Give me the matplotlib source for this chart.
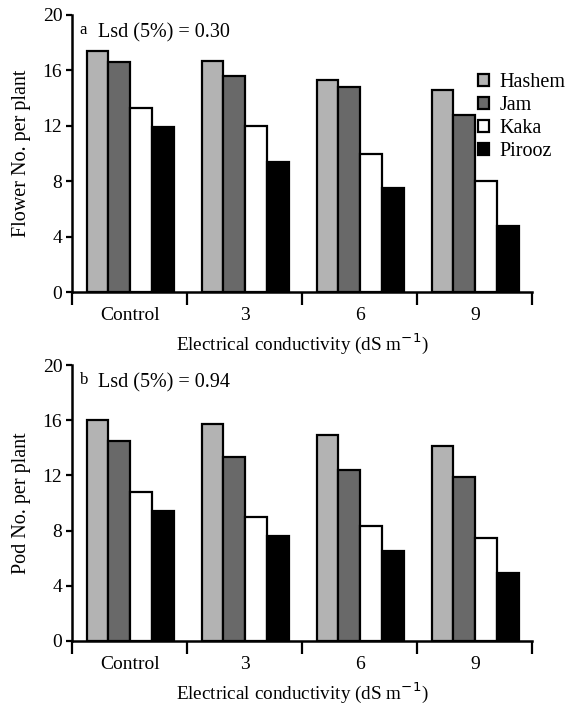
import numpy as np
import matplotlib.pyplot as plt
from matplotlib.ticker import FixedLocator

plt.rcParams['font.family'] = ['Liberation Serif', 'DejaVu Serif']

# data
groups = ['Control', '3', '6', '9']
cultivars = ['Hashem', 'Jam', 'Kaka', 'Pirooz']
colors = ['#b3b3b3', '#696969', '#ffffff', '#000000']

flower = {
    'Hashem': [17.4, 16.7, 15.3, 14.6],
    'Jam':    [16.6, 15.6, 14.8, 12.8],
    'Kaka':   [13.3, 12.0, 10.0, 8.0],
    'Pirooz': [11.9, 9.4, 7.5, 4.8],
}
pod = {
    'Hashem': [16.0, 15.7, 14.9, 14.1],
    'Jam':    [14.5, 13.3, 12.4, 11.9],
    'Kaka':   [10.8, 9.0, 8.3, 7.5],
    'Pirooz': [9.4, 7.6, 6.5, 4.9],
}
panels = [('a', 'Lsd (5%) = 0.30', 'Flower No. per plant', flower),
          ('b', 'Lsd (5%) = 0.94', 'Pod No. per plant', pod)]

fig = plt.figure(figsize=(5.74, 7.04), dpi=100)
axes = [fig.add_axes([0.1254, 0.5852, 0.8014, 0.3935]),
        fig.add_axes([0.1254, 0.0895, 0.8014, 0.3920])]

x = np.arange(len(groups)) + 0.507
w = 0.19
for ax, (tag, lsd, ylab, data) in zip(axes, panels):
    for i, c in enumerate(cultivars):
        ax.bar(x + (i - 1.5) * w, data[c], width=w, color=colors[i],
               edgecolor='black', linewidth=1.6, label=c)
    ax.set_xlim(0, 4)
    ax.set_ylim(0, 20)
    ax.spines['top'].set_visible(False)
    ax.spines['right'].set_visible(False)
    ax.spines['left'].set_linewidth(1.8)
    ax.spines['bottom'].set_linewidth(1.8)
    ax.set_yticks([0, 4, 8, 12, 16, 20])
    ax.tick_params(axis='y', length=4, width=1.6, labelsize=14, pad=3)
    # boundaries get the tick marks, centres get the labels
    ax.xaxis.set_major_locator(FixedLocator([0, 1, 2, 3, 4]))
    ax.set_xticklabels([])
    ax.xaxis.set_minor_locator(FixedLocator(x))
    ax.set_xticklabels(groups, minor=True)
    ax.tick_params(axis='x', which='major', length=9, width=1.6)
    ax.tick_params(axis='x', which='minor', length=0, labelsize=14, pad=11)
    ax.set_ylabel(ylab, fontsize=14.5, labelpad=8)
    ax.set_xlabel('Electrical conductivity (dS m$^{-1}$)', fontsize=13.8, labelpad=5)
    ax.text(0.017, 0.975, tag, transform=ax.transAxes, fontsize=12, va='top')
    ax.text(0.057, 0.97, lsd, transform=ax.transAxes, fontsize=14.5, va='top')

axes[0].legend(loc='upper left', bbox_to_anchor=(0.866, 0.82), frameon=False,
               fontsize=14.5, handlelength=0.55, handleheight=0.55,
               handletextpad=0.5, labelspacing=0.2, borderaxespad=0)

fig.savefig('out.png', dpi=100)
